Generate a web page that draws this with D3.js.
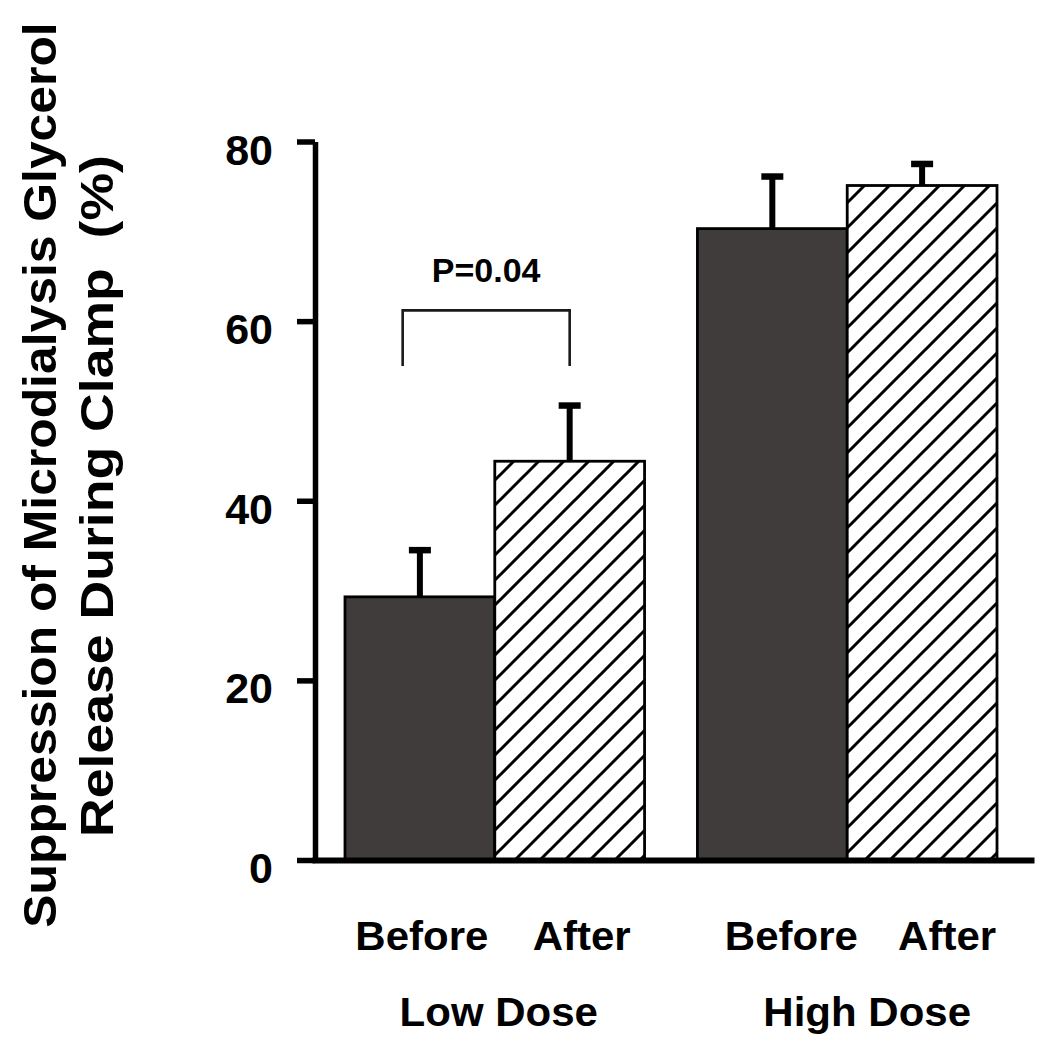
<!DOCTYPE html>
<html>
<head>
<meta charset="utf-8">
<script src="https://cdn.jsdelivr.net/npm/d3@7"></script>
<style>
  html, body { margin: 0; padding: 0; background: #fff; }
  svg { display: block; }
  text { font-family: "Liberation Sans", Arial, Helvetica, sans-serif; font-weight: bold; fill: #000; white-space: pre; }
</style>
</head>
<body>
<svg id="chart" width="1050" height="1043"></svg>
<script>
// ---- data ----
const groups = ["Low Dose", "High Dose"];
const conditions = ["Before", "After"];
const meanValues = [29.3, 44.4, 70.3, 75.1];   // Low Before, Low After, High Before, High After
const errorValues = [5.2, 6.2, 5.8, 2.4];      // SE above mean
const yTicks = [0, 20, 40, 60, 80];
const yLabelLines = ["Suppression of Microdialysis Glycerol", "Release During Clamp  (%)"];
const sigLabel = "P=0.04";
const sigBracket = { from: 0, to: 1, low: 55, high: 61.2 }; // indices of bars, y-values of bracket

const bars = meanValues.map((v, i) => ({
  group: groups[Math.floor(i / 2)],
  cond: conditions[i % 2],
  value: v,
  err: errorValues[i]
}));

// ---- layout ----
const svg = d3.select("#chart");
const y = d3.scaleLinear().domain([0, 80]).range([860, 141.5]);
const x0 = d3.scaleBand().domain(groups).range([345, 997]).paddingInner(0.15).paddingOuter(0);
const x1 = d3.scaleBand().domain(conditions).range([0, x0.bandwidth()]).padding(0);
const barX = d => x0(d.group) + x1(d.cond);
const barC = d => barX(d) + x1.bandwidth() / 2;

// hatch pattern
const defs = svg.append("defs");
const pat = defs.append("pattern")
  .attr("id", "hatch").attr("patternUnits", "userSpaceOnUse")
  .attr("width", 25).attr("height", 25);
pat.append("rect").attr("width", 25).attr("height", 25).attr("fill", "#fff");
pat.append("path")
  .attr("d", "M-5,5 L5,-5 M0,25 L25,0 M20,30 L30,20")
  .attr("stroke", "#000").attr("stroke-width", 3);

// bars
svg.append("g").selectAll("rect").data(bars).join("rect")
  .attr("x", d => barX(d))
  .attr("y", d => y(d.value))
  .attr("width", x1.bandwidth())
  .attr("height", d => y(0) - y(d.value))
  .attr("fill", d => d.cond === "Before" ? "#403c3b" : "url(#hatch)")
  .attr("stroke", "#000").attr("stroke-width", 2.8);

// error bars
const eg = svg.append("g").attr("stroke", "#000");
eg.selectAll("line.stem").data(bars).join("line").attr("class", "stem")
  .attr("x1", barC).attr("x2", barC)
  .attr("y1", d => y(d.value)).attr("y2", d => y(d.value + d.err))
  .attr("stroke-width", 6);
eg.selectAll("line.cap").data(bars).join("line").attr("class", "cap")
  .attr("x1", d => barC(d) - 11).attr("x2", d => barC(d) + 11)
  .attr("y1", d => y(d.value + d.err)).attr("y2", d => y(d.value + d.err))
  .attr("stroke-width", 6.5);

// y axis
const yAxis = d3.axisLeft(y).tickValues(yTicks).tickSize(18).tickSizeOuter(0).tickFormat("");
const ya = svg.append("g").attr("transform", "translate(315,0)").call(yAxis);
ya.select(".domain").attr("stroke", "#000").attr("stroke-width", 5.5);
ya.selectAll(".tick line").attr("stroke", "#000").attr("stroke-width", 5.5);
svg.append("g").selectAll("text").data(yTicks).join("text")
  .attr("x", 273).attr("y", d => y(d) + 23)
  .attr("text-anchor", "end")
  .attr("font-size", 43)
  .text(d => d);

// x axis line
const xa = d3.axisBottom(d3.scaleLinear().domain([0, 1]).range([312, 1034])).tickValues([]).tickSizeOuter(0);
const xg = svg.append("g").attr("transform", "translate(0,860)").call(xa);
xg.select(".domain").attr("stroke", "#000").attr("stroke-width", 6);

// stretched text helper
function stretch(sel, k) {
  sel.each(function () {
    const w = this.getComputedTextLength();
    d3.select(this).attr("textLength", w * k).attr("lengthAdjust", "spacingAndGlyphs");
  });
}

// condition labels
const condNudge = [2, 12, 19, 25];
svg.append("g").selectAll("text").data(bars).join("text")
  .attr("x", (d, i) => barC(d) + condNudge[i])
  .attr("y", 950)
  .attr("text-anchor", "middle")
  .attr("font-size", 40)
  .text(d => d.cond)
  .call(stretch, 1.05);

// group labels
const groupNudge = [4, 20];
svg.append("g").selectAll("text").data(groups).join("text")
  .attr("x", (d, i) => x0(d) + x0.bandwidth() / 2 + groupNudge[i])
  .attr("y", 1026)
  .attr("text-anchor", "middle")
  .attr("font-size", 40)
  .text(d => d)
  .call(stretch, 1.05);

// significance bracket
const bl = x0(bars[sigBracket.from].group) + x1(bars[sigBracket.from].cond) + x1.bandwidth() * 0.385;
const br = barC(bars[sigBracket.to]);
svg.append("path")
  .attr("d", `M${bl},${y(sigBracket.low)} V${y(sigBracket.high)} H${br} V${y(sigBracket.low)}`)
  .attr("fill", "none").attr("stroke", "#1a1a1a").attr("stroke-width", 2.6);
svg.append("text")
  .attr("x", (bl + br) / 2).attr("y", 282)
  .attr("text-anchor", "middle")
  .attr("font-size", 33)
  .text(sigLabel)
  .call(stretch, 1.03);

// y axis title
const yl = svg.append("g");
yl.append("text")
  .attr("transform", "translate(56,475) rotate(-90)")
  .attr("text-anchor", "middle")
  .attr("font-size", 47)
  .text(yLabelLines[0])
  .call(stretch, 1.06);
yl.append("text")
  .attr("transform", "translate(113,496) rotate(-90)")
  .attr("text-anchor", "middle")
  .attr("font-size", 47)
  .text(yLabelLines[1])
  .call(stretch, 1.14);
</script>
</body>
</html>
